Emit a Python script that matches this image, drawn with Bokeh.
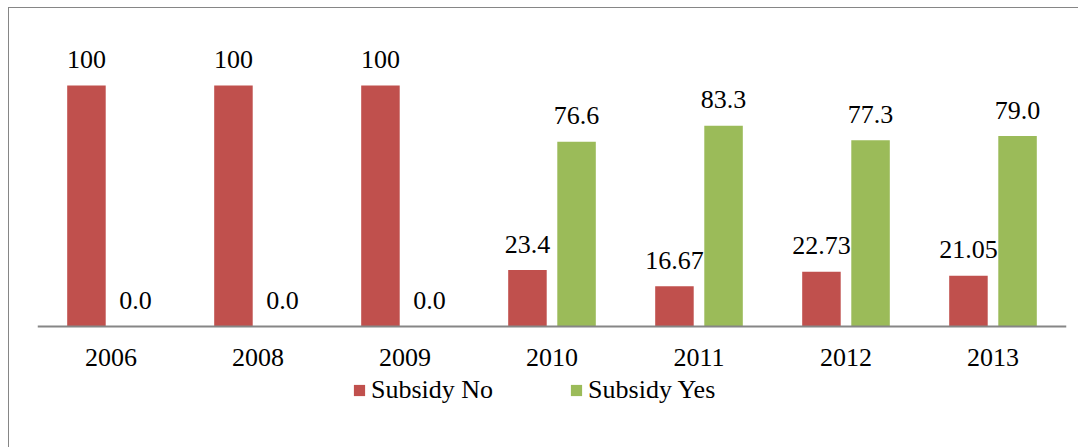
from bokeh.plotting import figure
from bokeh.models import ColumnDataSource, FactorRange, Range1d, Legend, LegendItem, Span
from bokeh.transform import dodge
from bokeh.core.properties import value
from bokeh.embed import file_html
from bokeh.resources import INLINE

years = ["2006", "2008", "2009", "2010", "2011", "2012", "2013"]
subsidy_no = [100, 100, 100, 23.4, 16.67, 22.73, 21.05]
subsidy_yes = [0.0, 0.0, 0.0, 76.6, 83.3, 77.3, 79.0]
no_labels = ["100", "100", "100", "23.4", "16.67", "22.73", "21.05"]
yes_labels = ["0.0", "0.0", "0.0", "76.6", "83.3", "77.3", "79.0"]

src = ColumnDataSource(dict(year=years, no=subsidy_no, yes=subsidy_yes,
                            no_lab=no_labels, yes_lab=yes_labels,
                            base=[0] * len(years)))

FONT = "Liberation Serif"
FS = "26px"
RED = "#C0504D"
GREEN = "#9BBB59"

p = figure(width=1070, height=440, x_range=FactorRange(*years, range_padding=0),
           y_range=Range1d(-46.47, 122.8), output_backend="svg", toolbar_location=None,
           min_border_left=28, min_border_right=13, min_border_top=22, min_border_bottom=10)
p.margin = (7, 0, 0, 8)
p.styles = {"border-left": "1px solid #868686", "border-top": "1px solid #868686"}

r_no = p.vbar(x=dodge("year", -0.167, range=p.x_range), top="no", width=0.262,
              source=src, fill_color=RED, line_color=None)
r_yes = p.vbar(x=dodge("year", 0.167, range=p.x_range), top="yes", width=0.262,
               source=src, fill_color=GREEN, line_color=None)

p.text(x=dodge("year", -0.167, range=p.x_range), y="no", text="no_lab", source=src,
       text_align="center", text_baseline="middle", y_offset=-26,
       text_font=value(FONT), text_font_size=FS, text_color="black")
p.text(x=dodge("year", 0.167, range=p.x_range), y="yes", text="yes_lab", source=src,
       text_align="center", text_baseline="middle", y_offset=-26,
       text_font=value(FONT), text_font_size=FS, text_color="black")

# baseline (category axis line) and category labels
p.add_layout(Span(location=0, dimension="width", line_color="#868686", line_width=2))
p.text(x="year", y="base", text="year", source=src,
       text_align="center", text_baseline="middle", y_offset=31,
       text_font=value(FONT), text_font_size=FS, text_color="black")

p.xaxis.visible = False
p.yaxis.visible = False
p.xgrid.visible = False
p.ygrid.visible = False
p.outline_line_color = None
p.background_fill_color = "white"
p.border_fill_color = "white"

legend = Legend(items=[LegendItem(label="Subsidy No", renderers=[r_no]),
                       LegendItem(label="Subsidy Yes", renderers=[r_yes])],
                orientation="horizontal", location=(315, 33),
                glyph_width=14, glyph_height=14, label_standoff=5, spacing=76,
                label_text_font=FONT, label_text_font_size=FS,
                label_text_color="black", border_line_color=None,
                background_fill_alpha=0, padding=0, margin=0)
p.add_layout(legend, "center")

open("out.html", "w").write(file_html(p, INLINE))
